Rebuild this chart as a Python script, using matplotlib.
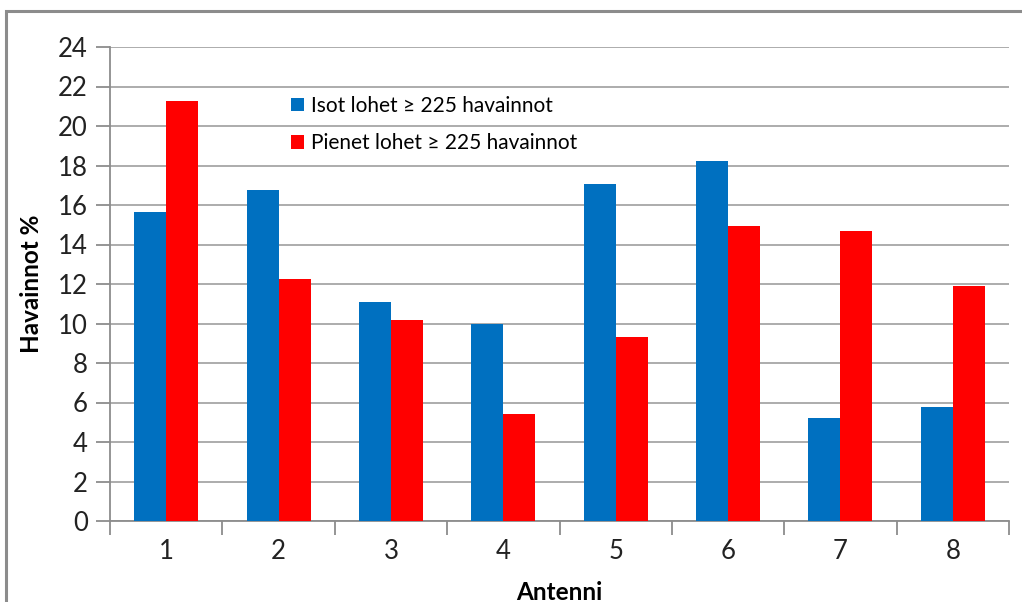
import matplotlib
matplotlib.use("Agg")
import matplotlib.pyplot as plt
import numpy as np
from matplotlib.patches import Rectangle

plt.rcParams['font.family'] = ['Lato', 'DejaVu Sans']

# Havainnot antenneittain (%)
antennit = ['1', '2', '3', '4', '5', '6', '7', '8']
isot = [15.65, 16.75, 11.1, 10.0, 17.05, 18.25, 5.2, 5.75]
pienet = [21.25, 12.25, 10.2, 5.4, 9.3, 14.95, 14.7, 11.9]
y_ticks = list(range(0, 25, 2))

BLUE = '#0070C0'
RED = '#FF0000'
AXIS_GRAY = '#8C8C8C'
GRID_GRAY = '#A6A6A6'

fig = plt.figure(figsize=(10.22, 6.02), dpi=100)
ax = fig.add_axes([110 / 1022, 81 / 602, 899 / 1022, 474 / 602])

x = np.arange(len(antennit))
w = 0.285
ax.bar(x - w / 2, isot, width=w, color=BLUE, label='Isot lohet \u2265 225 havainnot', zorder=3)
ax.bar(x + w / 2, pienet, width=w, color=RED, label='Pienet lohet \u2265 225 havainnot', zorder=3)

ax.set_xlim(-0.5, len(antennit) - 0.5)
ax.set_ylim(0, 24)
ax.set_yticks(y_ticks)
ax.set_yticklabels([str(v) for v in y_ticks], fontsize=18.5, color='#222222')
ax.yaxis.grid(True, color=GRID_GRAY, linewidth=1.3, zorder=0)

# kategoriat keskelle, tick-viivat kategorioiden rajoille
ax.set_xticks(x)
ax.set_xticklabels(antennit, fontsize=18.5, color='#222222')
ax.tick_params(axis='x', which='major', length=0, pad=13)
ax.set_xticks(np.arange(-0.5, len(antennit)), minor=True)
ax.tick_params(axis='x', which='minor', length=10, width=1.3, color=AXIS_GRAY)
ax.tick_params(axis='y', length=10, width=1.3, color=AXIS_GRAY, pad=6)

for side in ['top', 'right']:
    ax.spines[side].set_visible(False)
for side in ['left', 'bottom']:
    ax.spines[side].set_color(AXIS_GRAY)
    ax.spines[side].set_linewidth(1.3)

ax.set_ylabel('Havainnot %', fontsize=17.5, fontweight='bold')
ax.set_xlabel('Antenni', fontsize=17.5, fontweight='bold', labelpad=12)
ax.yaxis.set_label_coords(-67 / 899, 0.5)

leg = ax.legend(loc='upper left', bbox_to_anchor=(291 / 1022, 506 / 602),
                bbox_transform=fig.transFigure, frameon=False, fontsize=15,
                handlelength=0.62, handleheight=0.62, handletextpad=0.34,
                labelspacing=0.82, borderpad=0, borderaxespad=0)

# kehys koko kuvan ympärille
fig.patches.append(Rectangle((6 / 1022, -0.1), 1.1, 591 / 602 + 0.1,
                             transform=fig.transFigure, fill=False,
                             edgecolor='#8C8C8C', linewidth=2.2, zorder=0))

fig.savefig('out.png', dpi=100)
